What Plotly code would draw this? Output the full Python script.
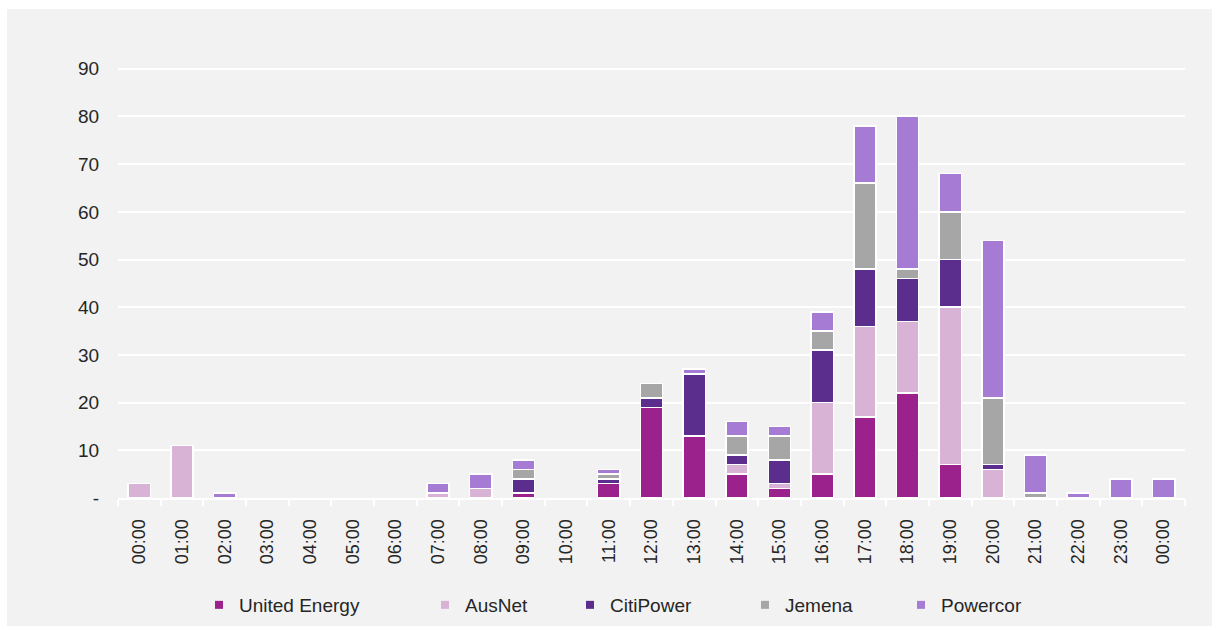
import plotly.graph_objects as go

# Hourly interval labels (midnight appears at both ends of the day)
hours = ["00:00", "01:00", "02:00", "03:00", "04:00", "05:00", "06:00", "07:00",
         "08:00", "09:00", "10:00", "11:00", "12:00", "13:00", "14:00", "15:00",
         "16:00", "17:00", "18:00", "19:00", "20:00", "21:00", "22:00", "23:00",
         "00:00"]

united_energy = [0, 0, 0, 0, 0, 0, 0, 0, 0, 1, 0, 3, 19, 13, 5, 2, 5, 17, 22, 7, 0, 0, 0, 0, 0]
ausnet =        [3, 11, 0, 0, 0, 0, 0, 1, 2, 0, 0, 0, 0, 0, 2, 1, 15, 19, 15, 33, 6, 0, 0, 0, 0]
citipower =     [0, 0, 0, 0, 0, 0, 0, 0, 0, 3, 0, 1, 2, 13, 2, 5, 11, 12, 9, 10, 1, 0, 0, 0, 0]
jemena =        [0, 0, 0, 0, 0, 0, 0, 0, 0, 2, 0, 1, 3, 0, 4, 5, 4, 18, 2, 10, 14, 1, 0, 0, 0]
powercor =      [0, 0, 1, 0, 0, 0, 0, 2, 3, 2, 0, 1, 0, 1, 3, 2, 4, 12, 32, 8, 33, 8, 1, 4, 4]

series_names = ["United Energy", "AusNet", "CitiPower", "Jemena", "Powercor"]
series_values = [united_energy, ausnet, citipower, jemena, powercor]
series_colors = ["#9B228C", "#D8B3D6", "#5B2D8C", "#A6A6A6", "#A67BD4"]

y_ticks = [0, 10, 20, 30, 40, 50, 60, 70, 80, 90]
y_tick_text = ["-", "10", "20", "30", "40", "50", "60", "70", "80", "90"]

W, H = 1217, 630
L, R, T, B = 118, 32, 64, 132
plot_w = W - L - R
plot_h = H - T - B
BG = "#F2F2F2"
TEXT = "#262626"
FONT = "Liberation Sans, Arial, sans-serif"

x_pos = list(range(len(hours)))

fig = go.Figure()

for name, vals, color in zip(series_names, series_values, series_colors):
    fig.add_trace(go.Bar(
        x=x_pos,
        y=[v if v else None for v in vals],
        name=name,
        width=0.52,
        marker=dict(color=color, line=dict(color="white", width=1.5)),
        showlegend=False,
    ))

# Legend entries: small square swatches, each in its own legend box
legend_px = [199, 425, 570, 745, 901]
legend_keys = ["legend", "legend2", "legend3", "legend4", "legend5"]
legend_layout = {}
for name, color, px, key in zip(series_names, series_colors, legend_px, legend_keys):
    fig.add_trace(go.Scatter(
        x=[None], y=[None], mode="markers", name=name,
        marker=dict(symbol="square", size=8, color=color),
        legend=key, showlegend=True,
    ))
    legend_layout[key] = dict(
        x=(px - L) / plot_w, y=(H - B - 605) / plot_h,
        xanchor="left", yanchor="middle", orientation="h",
        bgcolor="rgba(0,0,0,0)", borderwidth=0,
        font=dict(family=FONT, size=19, color=TEXT),
        itemwidth=30,
    )

# Grey panel behind the whole chart, leaving a thin white frame
panel = dict(
    type="rect", xref="paper", yref="paper", layer="below",
    x0=(7 - L) / plot_w, x1=(1212 - L) / plot_w,
    y0=(H - B - 626) / plot_h, y1=(H - B - 9) / plot_h,
    fillcolor=BG, line=dict(width=0),
)

fig.update_layout(
    width=W, height=H,
    margin=dict(l=L, r=R, t=T, b=B, pad=0, autoexpand=False),
    paper_bgcolor="white",
    plot_bgcolor=BG,
    barmode="stack",
    font=dict(family=FONT, size=19, color=TEXT),
    shapes=[panel],
    **legend_layout,
)

fig.update_xaxes(
    range=[-0.5, len(hours) - 0.5],
    tickmode="array", tickvals=x_pos, ticktext=hours,
    tickangle=-90,
    ticks="outside", ticklen=12, tickcolor="rgba(0,0,0,0)",
    tickfont=dict(family=FONT, size=18, color=TEXT),
    showgrid=False, zeroline=False,
    showline=True, linecolor="white", linewidth=2,
    minor=dict(tickmode="linear", tick0=-0.5, dtick=1, ticks="outside",
               ticklen=6, tickwidth=2, tickcolor="white", showgrid=False),
    fixedrange=True,
)

fig.update_yaxes(
    range=[0, 91],
    tickmode="array", tickvals=y_ticks, ticktext=y_tick_text,
    tickfont=dict(family=FONT, size=19, color=TEXT),
    ticks="outside", ticklen=14, tickcolor="rgba(0,0,0,0)",
    showgrid=True, gridcolor="white", gridwidth=2,
    zeroline=False, showline=False,
    fixedrange=True,
)

fig.write_html("out.html")
